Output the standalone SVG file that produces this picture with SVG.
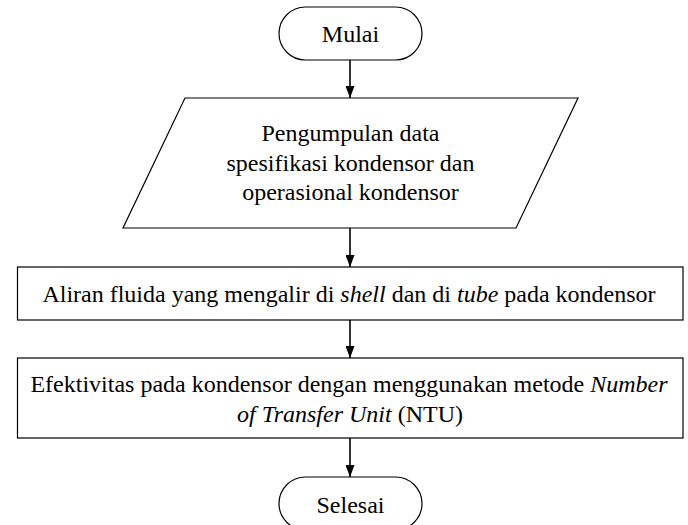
<svg xmlns="http://www.w3.org/2000/svg" width="688" height="525" viewBox="0 0 688 525">
  <defs>
    <style>
      .shape { fill: #ffffff; stroke: #000000; stroke-width: 1.2; }
      .label { font-family: "Liberation Serif", "Times New Roman", serif; font-size: 24px; fill: #000000; text-anchor: middle; }
      .it { font-style: italic; }
      .conn { stroke: #000000; stroke-width: 1.6; fill: none; marker-end: url(#arrow); }
    </style>
    <marker id="arrow" markerWidth="12" markerHeight="9" refX="12" refY="4.5" orient="auto" markerUnits="userSpaceOnUse">
      <path d="M0,0 L12,4.5 L0,9 Z" fill="#000000"/>
    </marker>
  </defs>
  <rect width="688" height="525" fill="#ffffff"/>

  <g id="connectors">
    <line class="conn" x1="350" y1="60" x2="350" y2="98"/>
    <line class="conn" x1="350" y1="228" x2="350" y2="267"/>
    <line class="conn" x1="350" y1="320" x2="350" y2="358"/>
    <line class="conn" x1="350" y1="438" x2="350" y2="477"/>
  </g>

  <g id="mulai">
    <rect class="shape" x="279" y="7" width="143" height="53" rx="26.5" ry="26.5"/>
    <text class="label" x="350.5" y="42">Mulai</text>
  </g>

  <g id="pengumpulan">
    <polygon class="shape" points="185,98 578,98 516,228 123,228"/>
    <text class="label" x="350.5" y="141">Pengumpulan data</text>
    <text class="label" x="350.5" y="171">spesifikasi kondensor dan</text>
    <text class="label" x="350.5" y="200">operasional kondensor</text>
  </g>

  <g id="aliran">
    <rect class="shape" x="17.5" y="267" width="665.5" height="53"/>
    <text class="label" x="349" y="302">Aliran fluida yang mengalir di <tspan class="it">shell</tspan> dan di <tspan class="it">tube</tspan> pada kondensor</text>
  </g>

  <g id="efektivitas">
    <rect class="shape" x="17.5" y="358" width="665.5" height="80"/>
    <text class="label" x="349" y="392">Efektivitas pada kondensor dengan menggunakan metode <tspan class="it">Number</tspan></text>
    <text class="label" x="350" y="422"><tspan class="it">of Transfer Unit</tspan> (NTU)</text>
  </g>

  <g id="selesai">
    <rect class="shape" x="279" y="477" width="143" height="53" rx="26.5" ry="26.5"/>
    <text class="label" x="350.5" y="513">Selesai</text>
  </g>
</svg>
